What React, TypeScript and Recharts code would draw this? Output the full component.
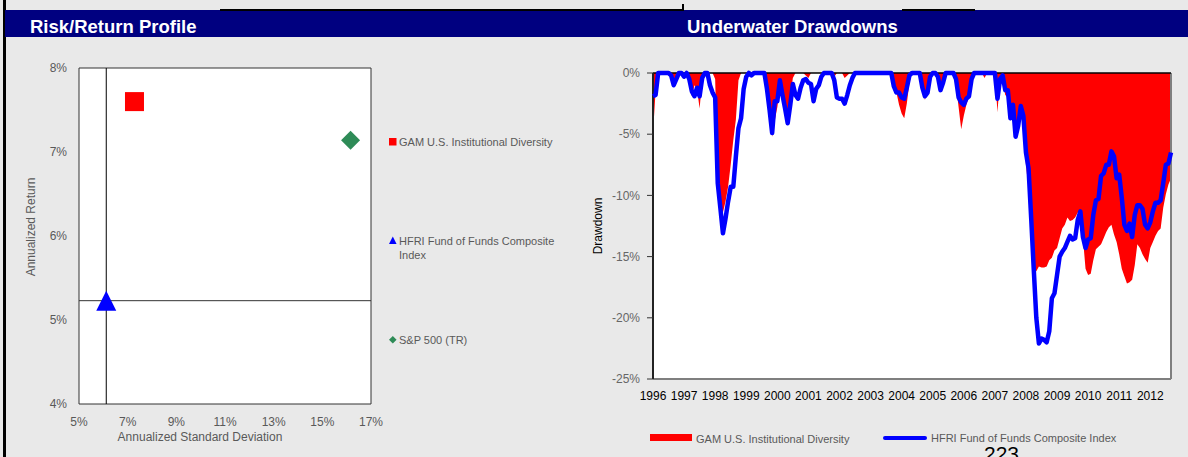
import {
  ComposedChart,
  ScatterChart,
  Scatter,
  XAxis,
  YAxis,
  Area,
  Line,
  ReferenceLine,
  ReferenceArea,
  CartesianGrid,
} from "recharts";

// risk / return points (annualized std dev %, annualized return %)
const riskNames = ["GAM U.S. Institutional Diversity", "HFRI Fund of Funds Composite Index", "S&P 500 (TR)"];
const riskSd = [7.28, 6.12, 16.16];
const riskRet = [7.6, 5.23, 7.14];
const sdTicks = [5, 7, 9, 11, 13, 15, 17];
const retTicks = [4, 5, 6, 7, 8];

// monthly underwater drawdowns, %, one row per year
const years = ["1996", "1997", "1998", "1999", "2000", "2001", "2002", "2003", "2004", "2005", "2006", "2007", "2008", "2009", "2010", "2011", "2012"];
const gamDrawdown = [
  -4.9, -1.5, -0.3, 0, 0, 0, 0, -0.5, -1.1, -0.3, 0, 0,
  -0.3, 0, -0.6, -1.9, -1.0, -1.3, -2.9, -0.5, 0, 0, 0, 0,
  -0.5, -9.0, -11.0, -11.4, -10.5, -9.3, -7.5, -5.5, -3.8, -0.6, 0, 0,
  0, 0, 0, 0, 0, 0, 0, 0, -1.5, -3.5, -5.2, -3.9,
  -2.8, -1.3, -2.2, -3.0, -4.1, -2.0, -0.4, 0, 0, 0, 0, -0.2,
  -0.4, 0, 0, 0, 0, 0, 0, 0, 0, -0.2, -0.3, 0,
  0, 0, -0.4, -0.2, 0, 0, 0, 0, 0, 0, 0, 0,
  0, 0, 0, 0, 0, 0, 0, 0, 0, -0.8, -1.6, -2.6,
  -3.3, -3.7, -2.5, -0.8, 0, 0, 0, 0, -1.0, -2.2, -1.2, 0,
  0, 0, -0.3, -1.4, -0.5, 0, 0, 0, 0, -1.0, -2.8, -4.6,
  -3.5, -2.6, -1.9, -0.6, 0, 0, 0, 0, -0.4, 0, 0, 0,
  0, -3.2, -0.3, -0.5, -1.8, -2.0, -3.9, -3.0, -5.4, -4.6, -3.0, -4.2,
  -7.5, -9.5, -12.0, -15.8, -16.2, -15.8, -15.9, -15.9, -15.8, -15.3, -15.1, -14.5,
  -14.3, -13.5, -12.7, -12.4, -11.8, -12.1, -12.0, -11.8, -11.4, -11.6, -13.5, -16.0,
  -16.5, -16.4, -15.3, -14.4, -14.2, -14.0, -13.5, -13.0, -12.6, -12.4, -13.2, -13.8,
  -14.8, -16.0, -16.6, -17.2, -17.1, -16.9, -15.7, -14.0, -14.3, -14.8, -15.2, -15.5,
  -14.3, -13.8, -13.3, -12.9, -12.7, -11.0, -9.9, -9.1, -8.6,
];
const hfriDrawdown = [
  -1.9, -1.8, 0, 0, 0, 0, 0, -0.2, -1.0, -0.5, 0, 0,
  -0.3, 0, -0.5, -1.5, -1.9, -1.2, -1.9, -0.4, 0, 0, -1.0, -1.6,
  -2.0, -9.0, -11.0, -13.1, -11.9, -10.5, -9.3, -9.3, -6.8, -4.5, -3.7, -1.3,
  -0.3, 0, -0.2, 0, 0, 0, 0, 0, -1.3, -3.0, -4.9, -2.3,
  -2.3, -0.6, -1.8, -2.9, -4.1, -2.6, -0.9, -1.8, -2.1, -1.2, -0.6, -0.5,
  -0.8, -0.9, -2.3, -1.3, -1.0, -0.3, 0, 0, 0, 0, -0.6, -2.0,
  -2.1, -2.1, -2.5, -1.8, -1.0, -0.4, 0, 0, 0, 0, 0, 0,
  0, 0, 0, 0, 0, 0, 0, 0, 0, -1.1, -1.6, -1.6,
  -2.0, -2.1, -1.2, -0.2, 0, 0, 0, 0, -1.2, -1.9, -1.6, -0.3,
  0, 0, -0.3, -1.4, -0.8, 0, 0, 0, 0, -0.5, -2.0, -2.4,
  -2.6, -2.1, -1.9, -0.5, 0, 0, 0, 0, 0, 0, 0, 0,
  0, -2.1, -0.5, -0.2, -1.4, -1.4, -3.7, -2.6, -5.2, -4.3, -2.7, -3.5,
  -6.5, -7.8, -11.8, -16.0, -20.0, -22.1, -21.7, -21.8, -22.0, -21.1, -18.4, -18.0,
  -16.5, -15.0, -14.6, -14.3, -13.8, -13.3, -13.6, -13.5, -12.0, -11.3, -13.4, -14.3,
  -13.6, -13.5, -11.6, -10.4, -10.3, -8.4, -8.2, -7.5, -7.5, -6.4, -6.8, -8.6,
  -8.3, -10.2, -12.4, -12.9, -12.3, -13.4, -11.6, -10.8, -10.8, -11.1, -12.4, -12.7,
  -12.2, -11.3, -10.6, -10.6, -10.4, -9.0, -7.5, -7.4, -6.5,
];
const ddTicks = [0, -5, -10, -15, -20, -25];

const ddData = gamDrawdown.map((g, i) => ({ t: i, gam: g, hfri: hfriDrawdown[i] }));
const yearTicks = years.map((_, i) => i * 12);

const FONT = "'Liberation Sans', Arial, sans-serif";
const RED = "#ff0000";
const BLUE = "#0000ff";
const GREEN = "#2e8b57";

const SquareDot = (p: any) => <rect x={p.cx - 9.5} y={p.cy - 9.5} width={19} height={19} fill={RED} />;
const TriangleDot = (p: any) => (
  <polygon points={`${p.cx},${p.cy - 10} ${p.cx + 10},${p.cy + 10} ${p.cx - 10},${p.cy + 10}`} fill={BLUE} />
);
const DiamondDot = (p: any) => (
  <polygon points={`${p.cx},${p.cy - 9.5} ${p.cx + 9.5},${p.cy} ${p.cx},${p.cy + 9.5} ${p.cx - 9.5},${p.cy}`} fill={GREEN} />
);

const legendText = { position: "absolute" as const, fontSize: 11, lineHeight: "14px", color: "#595959", whiteSpace: "nowrap" as const };

export default function App() {
  return (
    <div style={{ position: "absolute", left: 0, top: 0, width: 1188, height: 457, background: "#e9e9e9", overflow: "hidden", fontFamily: FONT }}>
      {/* frame bits */}
      <div style={{ position: "absolute", left: 3, top: 0, width: 3, height: 457, background: "#000" }} />
      <div style={{ position: "absolute", left: 5, top: 10, width: 1183, height: 27, background: "#000080" }} />
      <div style={{ position: "absolute", left: 220, top: 9, width: 464, height: 2, background: "#000" }} />
      <div style={{ position: "absolute", left: 682, top: 4, width: 2, height: 6, background: "#000" }} />
      <div style={{ position: "absolute", left: 902, top: 9, width: 73, height: 2, background: "#000" }} />
      <div style={{ position: "absolute", left: 30, top: 16, fontSize: 18.5, lineHeight: "21px", fontWeight: 700, color: "#fff" }}>
        Risk/Return Profile
      </div>
      <div style={{ position: "absolute", left: 687, top: 16, fontSize: 18.5, lineHeight: "21px", fontWeight: 700, color: "#fff" }}>
        Underwater Drawdowns
      </div>

      {/* risk / return scatter */}
      <div style={{ position: "absolute", left: 0, top: 40 }}>
        <ScatterChart width={580} height={417} margin={{ top: 28, right: 209, bottom: 23, left: 39 }}>
          <CartesianGrid fill="#fff" stroke="none" horizontal={false} vertical={false} />
          <XAxis
            type="number"
            dataKey="sd"
            domain={[5, 17]}
            ticks={sdTicks}
            interval={0}
            tickFormatter={(v) => `${v}%`}
            axisLine={false}
            tickLine={false}
            tickSize={0}
            tickMargin={13}
            height={30}
            tick={{ fontSize: 12, fill: "#595959", fontFamily: FONT }}
          />
          <YAxis
            type="number"
            dataKey="ret"
            domain={[4, 8]}
            ticks={retTicks}
            interval={0}
            tickFormatter={(v) => `${v}%`}
            axisLine={false}
            tickLine={false}
            tickSize={0}
            tickMargin={12}
            width={40}
            tick={{ fontSize: 12, fill: "#595959", fontFamily: FONT }}
          />
          <ReferenceArea x1={5} x2={17} y1={4} y2={8} fill="none" stroke="#333" strokeWidth={1} />
          <ReferenceLine x={riskSd[1]} stroke="#000" strokeWidth={1} />
          <ReferenceLine y={riskRet[1]} stroke="#333" strokeWidth={1} />
          <Scatter name={riskNames[0]} data={[{ sd: riskSd[0], ret: riskRet[0] }]} shape={SquareDot} isAnimationActive={false} />
          <Scatter name={riskNames[1]} data={[{ sd: riskSd[1], ret: riskRet[1] }]} shape={TriangleDot} isAnimationActive={false} />
          <Scatter name={riskNames[2]} data={[{ sd: riskSd[2], ret: riskRet[2] }]} shape={DiamondDot} isAnimationActive={false} />
        </ScatterChart>
      </div>
      <div style={{ position: "absolute", left: 31, top: 227, transform: "translate(-50%, -50%) rotate(-90deg)", fontSize: 12, color: "#595959", whiteSpace: "nowrap" }}>
        Annualized Return
      </div>
      <div style={{ position: "absolute", left: 200, top: 437, transform: "translate(-50%, -50%)", fontSize: 12, color: "#595959", whiteSpace: "nowrap" }}>
        Annualized Standard Deviation
      </div>

      {/* risk / return legend */}
      <svg style={{ position: "absolute", left: 389, top: 138 }} width={8} height={8}>
        <rect x={0} y={0} width={7.5} height={7.5} fill={RED} />
      </svg>
      <div style={{ ...legendText, left: 399, top: 135 }}>{riskNames[0]}</div>
      <svg style={{ position: "absolute", left: 389, top: 236 }} width={9} height={9}>
        <polygon points="3.8,0.5 7.6,8 0,8" fill={BLUE} />
      </svg>
      <div style={{ ...legendText, left: 399, top: 233.5 }}>
        HFRI Fund of Funds Composite
        <br />
        Index
      </div>
      <svg style={{ position: "absolute", left: 389, top: 336 }} width={9} height={9}>
        <polygon points="3.8,0 7.6,3.8 3.8,7.6 0,3.8" fill={GREEN} />
      </svg>
      <div style={{ ...legendText, left: 399, top: 333 }}>{riskNames[2]}</div>

      {/* underwater drawdowns */}
      <div style={{ position: "absolute", left: 580, top: 40 }}>
        <ComposedChart width={608} height={417} data={ddData} margin={{ top: 33, right: 17, bottom: 48, left: 13 }}>
          <CartesianGrid fill="#fff" stroke="none" horizontal={false} vertical={false} />
          <XAxis
            type="number"
            dataKey="t"
            domain={[0, gamDrawdown.length - 1]}
            ticks={yearTicks}
            interval={0}
            tickFormatter={(v) => years[Math.round(v / 12)]}
            axisLine={false}
            tickLine={false}
            tickSize={0}
            tickMargin={12.5}
            height={30}
            tick={{ fontSize: 12, fill: "#000", fontFamily: FONT }}
          />
          <YAxis
            type="number"
            domain={[-25, 0]}
            ticks={ddTicks}
            interval={0}
            tickFormatter={(v) => `${v}%`}
            axisLine={false}
            tickLine={{ stroke: "#333" }}
            tickSize={6}
            tickMargin={7}
            width={60}
            tick={{ fontSize: 12, fill: "#666", fontFamily: FONT }}
          />
          <Area
            type="linear"
            dataKey="gam"
            name="GAM U.S. Institutional Diversity"
            baseValue={0}
            stroke="none"
            fill={RED}
            fillOpacity={1}
            isAnimationActive={false}
          />
          <ReferenceLine y={-25} stroke="#7f7f7f" strokeWidth={2} />
          <ReferenceLine x={gamDrawdown.length - 1} stroke="#7f7f7f" strokeWidth={2} />
          <ReferenceLine y={0} stroke="#000" strokeWidth={1.5} />
          <ReferenceLine x={0} stroke="#222" strokeWidth={2} />
          <Line
            type="linear"
            dataKey="hfri"
            name="HFRI Fund of Funds Composite Index"
            stroke={BLUE}
            strokeWidth={4.5}
            strokeLinejoin="round"
            dot={false}
            isAnimationActive={false}
          />
        </ComposedChart>
      </div>
      <div style={{ position: "absolute", left: 598, top: 226, transform: "translate(-50%, -50%) rotate(-90deg)", fontSize: 12, color: "#000", whiteSpace: "nowrap" }}>
        Drawdown
      </div>

      {/* drawdown legend */}
      <div style={{ position: "absolute", left: 650, top: 434, width: 42, height: 7, background: RED }} />
      <div style={{ ...legendText, lineHeight: "12px", left: 696, top: 432.5 }}>GAM U.S. Institutional Diversity</div>
      <div style={{ position: "absolute", left: 883, top: 435.5, width: 44, height: 4, background: BLUE, borderRadius: 2 }} />
      <div style={{ ...legendText, lineHeight: "12px", left: 931, top: 432 }}>HFRI Fund of Funds Composite Index</div>

      <div style={{ position: "absolute", left: 984, top: 443, fontSize: 21, lineHeight: "21px", color: "#000" }}>223</div>
    </div>
  );
}
